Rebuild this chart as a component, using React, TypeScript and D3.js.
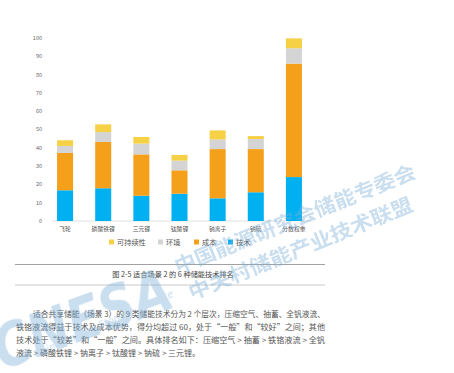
import React from 'react';
import * as d3 from 'd3';

const categories = ['飞轮', '磷酸铁锂', '三元锂', '钛酸锂', '钠离子', '钠硫', '分数权重'];
const techValues = [16.8, 17.9, 13.8, 14.9, 12.4, 15.7, 24.0];
const costValues = [20.4, 25.3, 22.6, 12.8, 26.9, 23.6, 62.0];
const envValues = [3.8, 5.4, 5.9, 5.3, 5.3, 5.5, 8.4];
const sustainValues = [3.1, 4.2, 3.6, 3.1, 4.9, 1.6, 5.4];
const yTicks = [0, 10, 20, 30, 40, 50, 60, 70, 80, 90, 100];

const seriesKeys = ['tech', 'cost', 'env', 'sustain'];
const seriesNames: Record<string, string> = { tech: '技术', cost: '成本', env: '环境', sustain: '可持续性' };
const seriesColors: Record<string, string> = { tech: '#00b0f0', cost: '#f5a01a', env: '#d4d4d4', sustain: '#f6d045' };
const legendOrder = ['sustain', 'env', 'cost', 'tech'];

const caption = '图 2-5   适合场景 2 的 6 种储能技术排名';
const paragraph = [
  '适合共享储能（场景 3）的 9 类储能技术分为 2 个层次，压缩空气、抽蓄、全钒液流、',
  '铁铬液流得益于技术及成本优势，得分均超过 60，处于“一般”和“较好”之间；其他',
  '技术处于“较差”和“一般”之间。具体排名如下：压缩空气 > 抽蓄 > 铁铬液流 > 全钒',
  '液流 > 磷酸铁锂 > 钠离子 > 钛酸锂 > 钠硫 > 三元锂。',
];

const font = '"Noto Sans CJK SC", "Noto Sans", sans-serif';

const App = () => {
  const W = 454, H = 373;

  const table = categories.map((c, i) => ({
    cat: c,
    tech: techValues[i],
    cost: costValues[i],
    env: envValues[i],
    sustain: sustainValues[i],
  }));

  const stacked = d3.stack<any>().keys(seriesKeys)(table);

  const x = d3.scaleBand<string>()
    .domain(categories)
    .range([46, 313])
    .paddingInner(0.58)
    .paddingOuter(0.29);

  const y = d3.scaleLinear().domain([0, 100]).range([221, 38]);

  // legend layout
  const legendX: Record<string, number> = { sustain: 109, env: 158, cost: 194, tech: 228 };

  return (
    <svg width={W} height={H} style={{ position: 'absolute', left: 0, top: 0, background: '#fff' }} fontFamily={font}>
      <rect width={W} height={H} fill="#fff" />

      {/* y axis labels */}
      {yTicks.map(t => (
        <text key={t} x={42} y={y(t)} dy="0.35em" textAnchor="end" fontSize={5.5} fill="#666">{t}</text>
      ))}

      {/* baseline */}
      <line x1={52} x2={313} y1={y(0)} y2={y(0)} stroke="#d9d9d9" strokeWidth={0.8} />

      {/* bars */}
      {stacked.map(s => (
        <g key={s.key} fill={seriesColors[s.key]}>
          {s.map((d, i) => (
            <rect key={i}
              x={x(categories[i])}
              y={y(d[1])}
              width={x.bandwidth()}
              height={y(d[0]) - y(d[1])} />
          ))}
        </g>
      ))}

      {/* category labels */}
      {categories.map(c => (
        <text key={c} x={(x(c) as number) + x.bandwidth() / 2} y={229} dy="0.35em" textAnchor="middle" fontSize={5.8} fill="#555">{c}</text>
      ))}

      {/* legend */}
      {legendOrder.map(k => (
        <g key={k} transform={`translate(${legendX[k]},242)`}>
          <rect x={0} y={-2.5} width={5} height={5} fill={seriesColors[k]} />
          <text x={8} y={0} dy="0.35em" fontSize={7.2} fill="#555">{seriesNames[k]}</text>
        </g>
      ))}

      {/* caption rules */}
      <line x1={15} x2={325} y1={264.5} y2={264.5} stroke="#8a8a8a" strokeWidth={0.8} />
      <text x={173} y={274.5} dy="0.35em" textAnchor="middle" fontSize={7.2} fill="#444">{caption}</text>
      <line x1={15} x2={325} y1={285} y2={285} stroke="#bbb" strokeWidth={0.8} />

      {/* paragraph */}
      {paragraph.map((line, i) => {
        const x0 = i === 0 ? 33 : 16;
        const full = i < 3;
        return (
          <text key={i} x={x0} y={314.5 + i * 12.8} dy="0.35em" fontSize={8} fill="#555"
            textLength={full ? 325 - x0 : undefined} lengthAdjust="spacingAndGlyphs">{line}</text>
        );
      })}

      {/* watermarks */}
      <g opacity={0.42} fill="#7fb0d8" fontWeight="bold">
        <text transform="translate(2,370) rotate(-20)" fontSize={58} textLength={186} lengthAdjust="spacingAndGlyphs"
          fontFamily='"DejaVu Sans", sans-serif' fontStyle="italic">CNESA</text>
        <text transform="translate(178,274) rotate(-22)" fontSize={20} textLength={258} lengthAdjust="spacingAndGlyphs">中国能源研究会储能专委会</text>
        <text transform="translate(192,300) rotate(-22)" fontSize={20} textLength={240} lengthAdjust="spacingAndGlyphs">中关村储能产业技术联盟</text>
        <text transform="translate(36,358) rotate(-24)" fontSize={10} fontWeight="normal" fontStyle="italic"
          fontFamily='"DejaVu Sans", sans-serif'>China Energy Storage Alliance</text>
      </g>
    </svg>
  );
};

export default App;
